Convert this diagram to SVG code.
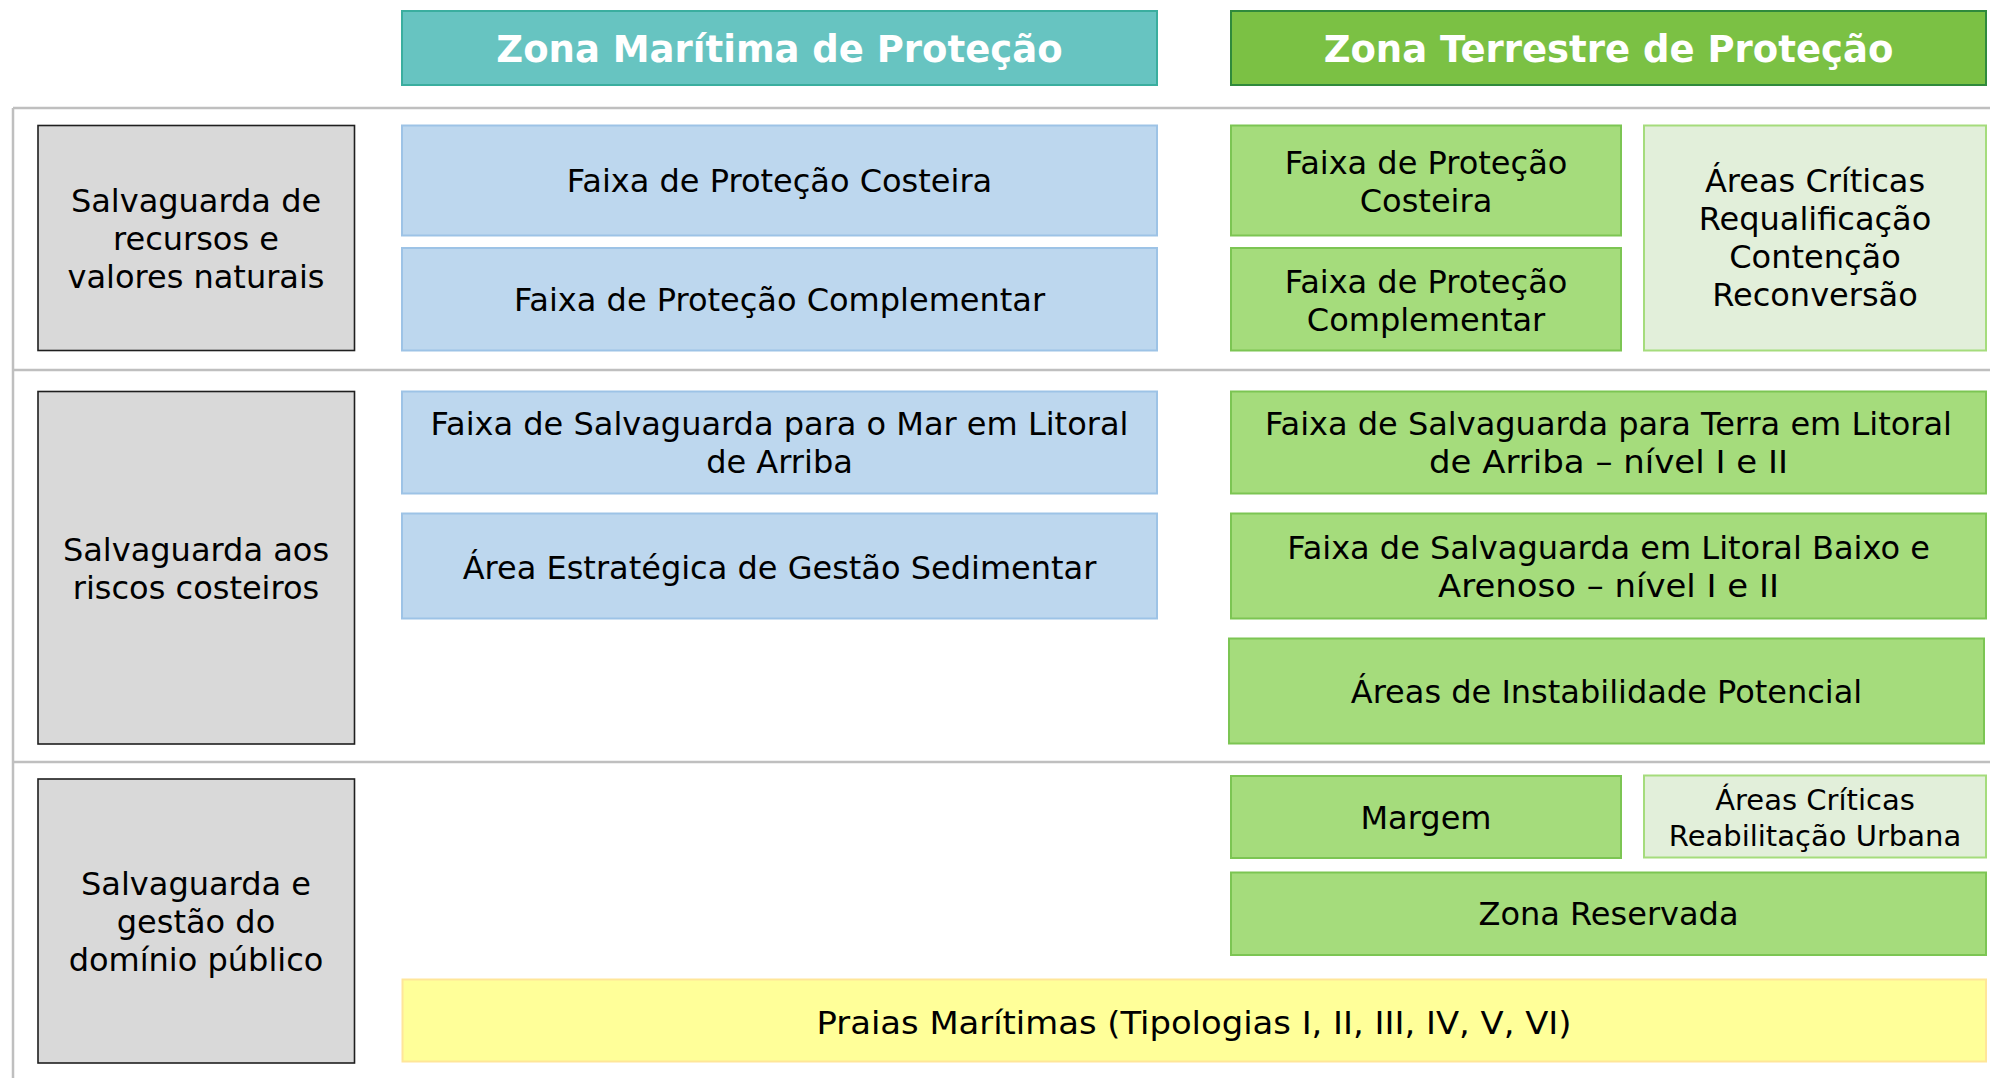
<svg xmlns="http://www.w3.org/2000/svg" width="1990" height="1078" viewBox="0 0 1990 1078">
<style>
text{font-family:"DejaVu Sans","Verdana",sans-serif;font-size:32px;fill:#000;text-anchor:middle}
.hd{font-weight:bold;font-size:37px;fill:#fff}
.sm{font-size:29px}
.gray{fill:#D9D9D9;stroke:#1f1f1f;stroke-width:1.6}
.blue{fill:#BDD7EE;stroke:#9DC3E6;stroke-width:2}
.green{fill:#A5DC7C;stroke:#7CC553;stroke-width:2}
.light{fill:#E2EFDA;stroke:#A5DC7C;stroke-width:2}
.yellow{fill:#FFFF99;stroke:#FFE699;stroke-width:2}
.sep{stroke:#BFBFBF;stroke-width:2.5;fill:none}
</style>
<rect width="1990" height="1078" fill="#fff"/>
<g id="connectors">
<line class="sep" x1="13" y1="108" x2="1990" y2="108"/>
<line class="sep" x1="13" y1="370" x2="1990" y2="370"/>
<line class="sep" x1="13" y1="762" x2="1990" y2="762"/>
<line class="sep" x1="13" y1="108" x2="13" y2="1078"/>
</g>
<g id="header-maritima">
<rect x="402" y="11" width="755" height="74" fill="#67C4C1" stroke="#3AAE9F" stroke-width="2"/>
<text class="hd" x="779.5" y="62">Zona Marítima de Proteção</text>
</g>
<g id="header-terrestre">
<rect x="1231" y="11" width="755" height="74" fill="#7BC144" stroke="#2F8A3C" stroke-width="2"/>
<text class="hd" x="1608.5" y="62">Zona Terrestre de Proteção</text>
</g>
<g id="cat-recursos">
<rect class="gray" x="38" y="125.5" width="316.5" height="225"/>
<text x="196" y="211.5">Salvaguarda de</text>
<text x="196" y="249.5">recursos e</text>
<text x="196" y="287.5">valores naturais</text>
</g>
<g id="cat-riscos">
<rect class="gray" x="38" y="391.5" width="316.5" height="352.5"/>
<text x="196" y="560.5">Salvaguarda aos</text>
<text x="196" y="598.5">riscos costeiros</text>
</g>
<g id="cat-dominio">
<rect class="gray" x="38" y="779" width="316.5" height="284"/>
<text x="196" y="895">Salvaguarda e</text>
<text x="196" y="933">gestão do</text>
<text x="196" y="971">domínio público</text>
</g>
<g id="mar-costeira">
<rect class="blue" x="402" y="125.5" width="755" height="110"/>
<text x="779.5" y="192">Faixa de Proteção Costeira</text>
</g>
<g id="mar-complementar">
<rect class="blue" x="402" y="248" width="755" height="102.5"/>
<text x="779.5" y="311">Faixa de Proteção Complementar</text>
</g>
<g id="mar-arriba">
<rect class="blue" x="402" y="391.5" width="755" height="102"/>
<text x="779.5" y="435">Faixa de Salvaguarda para o Mar em Litoral</text>
<text x="779.5" y="473">de Arriba</text>
</g>
<g id="mar-sedimentar">
<rect class="blue" x="402" y="513.5" width="755" height="105"/>
<text x="779.5" y="578.5">Área Estratégica de Gestão Sedimentar</text>
</g>
<g id="terra-costeira">
<rect class="green" x="1231" y="125.5" width="390" height="110"/>
<text x="1426" y="173.5">Faixa de Proteção</text>
<text x="1426" y="211.5">Costeira</text>
</g>
<g id="terra-complementar">
<rect class="green" x="1231" y="248" width="390" height="102.5"/>
<text x="1426" y="292.5">Faixa de Proteção</text>
<text x="1426" y="330.5">Complementar</text>
</g>
<g id="areas-criticas-1">
<rect class="light" x="1644" y="125.5" width="342" height="225"/>
<text x="1815" y="192">Áreas Críticas</text>
<text x="1815" y="230">Requalificação</text>
<text x="1815" y="268">Contenção</text>
<text x="1815" y="306">Reconversão</text>
</g>
<g id="terra-arriba">
<rect class="green" x="1231" y="391.5" width="755" height="102"/>
<text x="1608.5" y="435">Faixa de Salvaguarda para Terra em Litoral</text>
<text x="1608.5" y="473" textLength="359" lengthAdjust="spacingAndGlyphs">de Arriba – nível I e II</text>
</g>
<g id="terra-baixo">
<rect class="green" x="1231" y="513.5" width="755" height="105"/>
<text x="1608.5" y="559">Faixa de Salvaguarda em Litoral Baixo e</text>
<text x="1608.5" y="597" textLength="341" lengthAdjust="spacingAndGlyphs">Arenoso – nível I e II</text>
</g>
<g id="terra-instabilidade">
<rect class="green" x="1229" y="638.5" width="755" height="105"/>
<text x="1606.5" y="703">Áreas de Instabilidade Potencial</text>
</g>
<g id="margem">
<rect class="green" x="1231" y="776" width="390" height="82"/>
<text x="1426" y="829">Margem</text>
</g>
<g id="areas-criticas-2">
<rect class="light" x="1644" y="775.5" width="342" height="82"/>
<text class="sm" x="1815" y="810">Áreas Críticas</text>
<text class="sm" x="1815" y="846">Reabilitação Urbana</text>
</g>
<g id="zona-reservada">
<rect class="green" x="1231" y="872.5" width="755" height="82.5"/>
<text x="1608.5" y="925">Zona Reservada</text>
</g>
<g id="praias">
<rect class="yellow" x="402.5" y="979.5" width="1583.5" height="82"/>
<text x="1194" y="1034" textLength="755" lengthAdjust="spacingAndGlyphs">Praias Marítimas (Tipologias I, II, III, IV, V, VI)</text>
</g>
</svg>
